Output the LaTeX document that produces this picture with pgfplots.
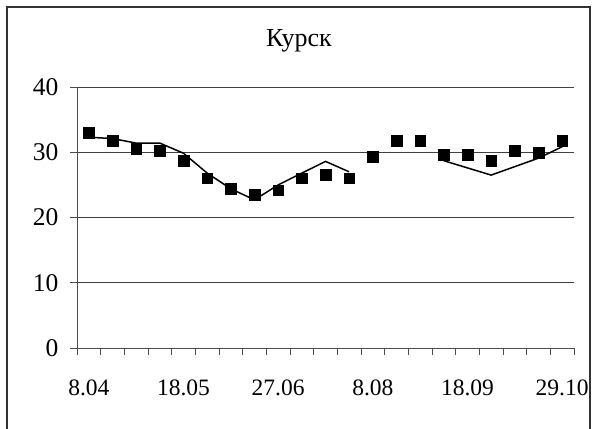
\documentclass[border=0pt]{standalone}
\usepackage{pgfplots}
\pgfplotsset{compat=1.18}
\usepackage{fontspec}
\setmainfont{Liberation Serif}

% measured values (squares) and fitted curve (line, with a gap)
\pgfplotstableread{
x  y
0  33.0
1  31.8
2  30.5
3  30.2
4  28.7
5  26.0
6  24.4
7  23.5
8  24.2
9  26.0
10 26.6
11 26.0
12 29.3
13 31.8
14 31.8
15 29.6
16 29.6
17 28.7
18 30.2
19 29.9
20 31.8
}\measured

\pgfplotstableread{
x  y
0  32.3
1  32.1
2  31.4
3  31.4
4  29.85
5  26.8
6  24.4
7  22.7
8  25.0
9  26.8
10 28.6
11 27.0
12 nan
13 nan
14 nan
15 28.7
16 27.6
17 26.5
18 27.8
19 29.1
20 30.85
}\fitted

\begin{document}
\begin{tikzpicture}[x=1bp,y=1bp]
\useasboundingbox (0,0) rectangle (596,428);
\draw[line width=1.8bp, black!80] (7.3,-2) -- (7.3,421.3) -- (590,421.3) -- (590,-2);
\node[anchor=base, font=\fontsize{26bp}{30bp}\selectfont] at (299,381.3) {Курск};
\begin{axis}[
  at={(77bp,80bp)}, anchor=south west,
  width=497bp, height=261bp, scale only axis,
  xmin=-0.5, xmax=20.5, ymin=0, ymax=40,
  axis x line*=bottom, axis y line*=left,
  axis line style={black!70, line width=0.8bp},
  xtick={0,4,8,12,16,20},
  xticklabels={8.04,18.05,27.06,8.08,18.09,29.10},
  minor xtick={-0.5,0.5,...,20.5},
  major x tick style={draw=none},
  ytick={0,10,20,30,40},
  tick align=outside,
  major tick length=7bp, minor tick length=7bp,
  tick style={black!70, line width=0.8bp},
  ymajorgrids, grid style={black!75, line width=0.8bp},
  /pgf/number format/assume math mode=true,
  xticklabel style={font=\fontsize{23.5bp}{28bp}\selectfont, yshift=-21bp},
  yticklabel style={font=\fontsize{25.5bp}{30bp}\selectfont, xshift=-8bp},
  clip=false,
]
\addplot[black, line width=1.5bp, unbounded coords=jump] table[x=x,y=y] {\fitted};
\addplot[only marks, mark=square*, mark size=5.3bp, black] table[x=x,y=y] {\measured};
\end{axis}
\end{tikzpicture}
\end{document}
